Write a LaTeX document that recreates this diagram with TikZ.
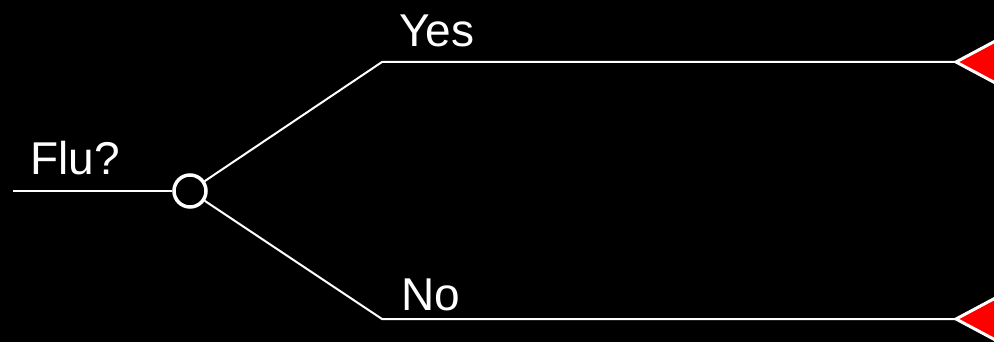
\documentclass[tikz,border=0pt]{standalone}
\usepackage{fontspec}
\setmainfont{Liberation Sans}
\usetikzlibrary{calc, positioning}

\tikzset{
  branch/.style={draw=white, line width=2pt},
  chance/.style={circle, draw=white, fill=black, line width=3.5pt, minimum size=32pt, inner sep=0pt},
  endleaf/.style={draw=white, fill=red, line width=3pt, miter limit=10},
  lbl/.style={text=white, font=\fontsize{46}{52}\selectfont, inner sep=0pt, anchor=base west}
}

\begin{document}
\begin{tikzpicture}[x=1pt, y=-1pt]
\def\Wpic{994}
\def\Hpic{342}
\def\ymid{191}
\def\yyes{62}
\def\yno{319}
\def\xbend{382}
\def\xtip{956}
\def\tipdx{45}
\def\tipdy{24}

\useasboundingbox (0,0) rectangle (\Wpic,\Hpic);
\fill[black] (0,0) rectangle (\Wpic,\Hpic);
\clip (0,0) rectangle (\Wpic,\Hpic);

\coordinate (root) at (13,\ymid);
\node[chance] (flu) at (190,\ymid) {};
\coordinate (yesbend) at (\xbend,\yyes);
\coordinate (nobend) at (\xbend,\yno);
\coordinate (yestip) at (\xtip,\yyes);
\coordinate (notip) at (\xtip,\yno);

% tree branches
\draw[branch] (root) -- (flu);
\draw[branch] (flu) -- (yesbend) -- (yestip);
\draw[branch] (flu) -- (nobend) -- (notip);

% terminal leaves
\draw[endleaf] (yestip) -- ++(\tipdx,-\tipdy) -- ++(0,2*\tipdy) -- cycle;
\draw[endleaf] (notip) -- ++(\tipdx,-\tipdy) -- ++(0,2*\tipdy) -- cycle;

\node[lbl] (flulbl) at (30,175) {Flu?};
\node[lbl] (yeslbl) at (399,47) {Yes};
\node[lbl] (nolbl) at (401,310) {No};
\end{tikzpicture}
\end{document}
